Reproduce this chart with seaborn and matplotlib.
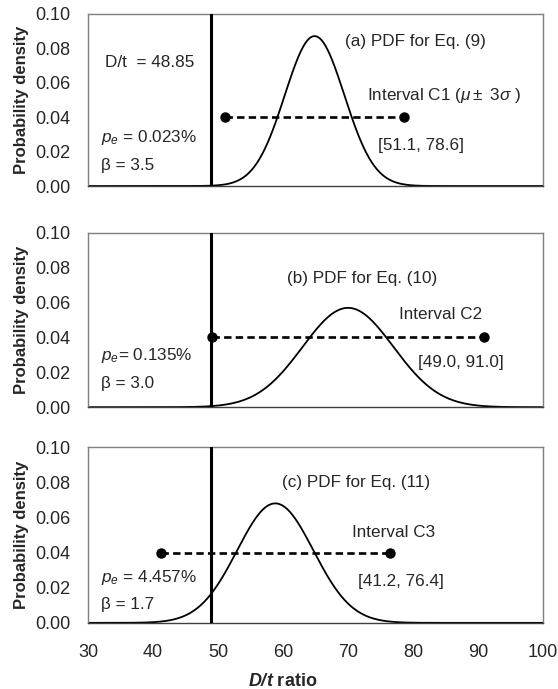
import numpy as np
import pandas as pd
import matplotlib
matplotlib.use("Agg")
import matplotlib.pyplot as plt
import seaborn as sns

# interval endpoints (mu - 3 sigma, mu + 3 sigma)
intervals = [(51.1, 78.6), (49.0, 91.0), (41.2, 76.4)]
dt_value = 48.85
panel_titles = ["(a) PDF for Eq. (9)", "(b) PDF for Eq. (10)", "(c) PDF for Eq. (11)"]
interval_names = [r"Interval C1 ($\mu\pm$ 3$\sigma$ )", "Interval C2", "Interval C3"]
interval_labels = ["[51.1, 78.6]", "[49.0, 91.0]", "[41.2, 76.4]"]
pe_labels = [r"$p_e$ = 0.023%", r"$p_e$= 0.135%", r"$p_e$ = 4.457%"]
beta_labels = ["β = 3.5", "β = 3.0", "β = 1.7"]
dot_y = 0.04
xticks = [30, 40, 50, 60, 70, 80, 90, 100]
yticks = [0.00, 0.02, 0.04, 0.06, 0.08, 0.10]

# text positions (data coords) per panel
title_pos = [(69.5, 0.0837), (60.6, 0.0741), (59.8, 0.0801)]
name_pos = [(72.9, 0.0523), (77.8, 0.0529), (70.6, 0.0517)]
lab_pos = [(74.6, 0.0238), (80.8, 0.0259), (71.5, 0.0233)]
pe_pos = [(32.0, 0.0279), (32.0, 0.0299), (32.0, 0.0256)]
beta_pos = [(32.0, 0.0122), (32.0, 0.0138), (32.0, 0.0102)]

sns.set_style("white")
plt.rcParams['font.family'] = ['Liberation Sans', 'DejaVu Sans']
plt.rcParams['mathtext.fontset'] = 'custom'
plt.rcParams['mathtext.rm'] = 'Liberation Sans'
plt.rcParams['mathtext.it'] = 'Liberation Sans:italic'
plt.rcParams['mathtext.bf'] = 'Liberation Sans:bold'
plt.rcParams['mathtext.bfit'] = 'Liberation Sans:bold:italic'

fig = plt.figure(figsize=(5.58, 6.89), dpi=100)
boxes = [[0.158, 0.730, 0.815, 0.250],
         [0.158, 0.409, 0.815, 0.253],
         [0.158, 0.096, 0.815, 0.255]]

fs = 12.3
x = np.linspace(30, 100, 700)
for i, (lo, hi) in enumerate(intervals):
    ax = fig.add_axes(boxes[i])
    mu = (lo + hi) / 2
    sd = (hi - lo) / 6
    pdf = np.exp(-0.5 * ((x - mu) / sd) ** 2) / (sd * np.sqrt(2 * np.pi))
    df = pd.DataFrame({"x": x, "pdf": pdf})
    sns.lineplot(data=df, x="x", y="pdf", ax=ax, color="black", lw=1.3)
    ax.axvline(dt_value, color="black", lw=2.2, zorder=3)
    ax.plot([lo, hi], [dot_y, dot_y], color="black", lw=1.9,
            dashes=(2.8, 1.6), marker="o", markersize=6.5, zorder=4)

    ax.set_xlim(30, 100)
    ax.set_ylim(0, 0.10)
    ax.set_yticks(yticks)
    ax.set_yticklabels([f"{v:.2f}" for v in yticks], fontsize=13)
    ax.set_xticks(xticks)
    if i == 2:
        ax.set_xticklabels([str(v) for v in xticks], fontsize=13)
    else:
        ax.set_xticklabels([])
    ax.tick_params(axis="y", length=0, pad=13)
    ax.tick_params(axis="x", length=0, pad=15)
    ax.set_xlabel("")
    ax.set_ylabel("Probability density", fontsize=12, fontweight="bold", labelpad=4)
    for s in ax.spines.values():
        s.set_color("#7f7f7f")
        s.set_linewidth(1.0)
    ax.spines["bottom"].set_color("#404040")

    ax.text(*title_pos[i], panel_titles[i], fontsize=fs, va="center")
    ax.text(*name_pos[i], interval_names[i], fontsize=fs, va="center")
    ax.text(*lab_pos[i], interval_labels[i], fontsize=fs, va="center")
    ax.text(*pe_pos[i], pe_labels[i], fontsize=fs, va="center")
    ax.text(*beta_pos[i], beta_labels[i], fontsize=fs, va="center")
    if i == 0:
        ax.text(32.6, 0.0715, "D/t  = 48.85", fontsize=fs, va="center")

fig.text(283 / 558, 1 - 682 / 689, r"$\mathbfit{D/t}$ ratio", fontsize=13,
         fontweight="bold", ha="center", va="center")

fig.savefig("out.png", dpi=100)
